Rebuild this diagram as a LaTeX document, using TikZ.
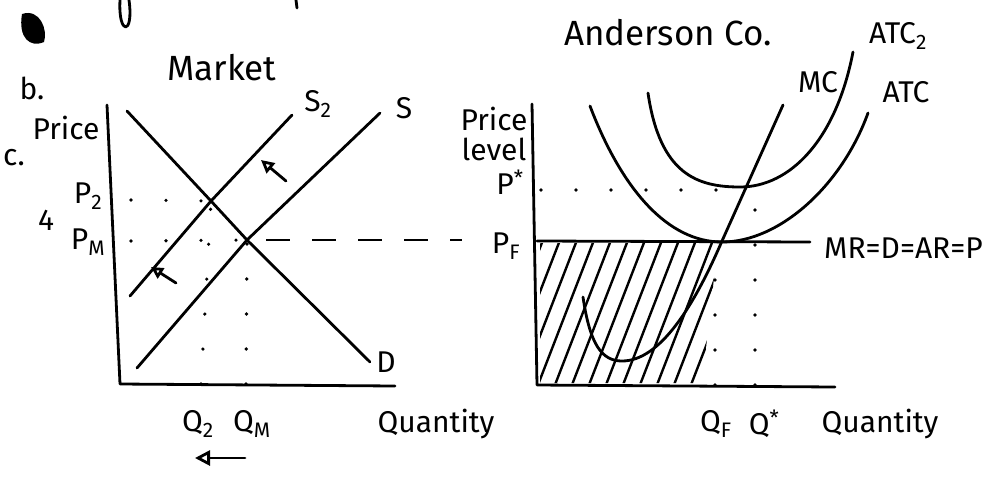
\documentclass[tikz,border=0pt]{standalone}
\usepackage{fontspec}
\setmainfont{Fira Sans}
\usetikzlibrary{arrows.meta}
\tikzset{
 ink/.style={line width=2.8pt,line cap=round,line join=round},
 dotline/.style={line width=3.6pt,line cap=round,dash pattern=on 0pt off 35pt},
 dashline/.style={line width=2.4pt,dash pattern=on 24pt off 22pt},
 hatch/.style={line width=2.4pt,line cap=round},
 hand/.style={font=\fontsize{30}{30}\selectfont,inner sep=0pt},
 big/.style={font=\fontsize{35}{37}\selectfont,inner sep=0pt},
}

\begin{document}
\begin{tikzpicture}[x=1pt,y=-1pt]
\useasboundingbox (0,0) rectangle (1001,491);
% stray marks at the top edge
\fill (22,14) .. controls (40,8) and (48,30) .. (44,42) .. controls (30,48) and (18,38) .. cycle;
\draw[ink] (120,0) .. controls (118,36) and (134,36) .. (129,0);
\draw[ink] (296,0) -- (297,8);

% ---- left panel: Market ----
\coordinate (ltop) at (107,105);
\coordinate (lo) at (120,384);
\coordinate (lend) at (395,386);
\draw[ink] (ltop) -- (lo) -- (lend);
\coordinate (d1) at (127,111);
\coordinate (d2) at (370,362);
\coordinate (e1) at (247,240);
\coordinate (e2) at (211,201);
\coordinate (sa) at (137,368);
\coordinate (sb) at (380,113);
\coordinate (s2a) at (130,296);
\coordinate (s2b) at (292,115);
\draw[ink] (d1) -- (e2) -- (e1) -- (d2);
\draw[ink] (sa) -- (e1) -- (sb);
\draw[ink] (s2a) -- (e2) -- (s2b);
\draw[dotline] (131,200) -- (e2);
\draw[dotline] (131,241) -- (e1);
\draw[dotline] (201,384) -- (e2);
\draw[dotline] (246,384) -- (e1);
\draw[dashline] (266,240) -- (462,240);
% shift arrows
\coordinate (ar1a) at (286,181);
\coordinate (ar1b) at (261,160);
\coordinate (ar2a) at (176,283);
\coordinate (ar2b) at (151,267);
\coordinate (ar3a) at (245,458);
\coordinate (ar3b) at (195,458);
\draw[ink,-{Triangle[open,length=13pt,width=13pt]}] (ar1a) -- (ar1b);
\draw[ink,-{Triangle[open,length=12pt,width=12pt]}] (ar2a) -- (ar2b);
\draw[ink,-{Triangle[open,length=15pt,width=15pt]}] (ar3a) -- (ar3b);

\node[big] (market) at (222,68) {Market};
\node[hand] (partb) at (32,88) {b.};
\node[hand] (partc) at (14,158) {c.};
\node[hand] (lprice) at (66,128) {Price};
\node[hand] (p2) at (88,196) {P\textsubscript{2}};
\node[hand] (up) at (46,220) {4};
\node[hand] (pm) at (88,242) {P\textsubscript{M}};
\node[hand] (s2lbl) at (318,104) {S\textsubscript{2}};
\node[hand] (slbl) at (404,108) {S};
\node[hand] (dlbl) at (386,362) {D};
\node[hand] (q2) at (198,424) {Q\textsubscript{2}};
\node[hand] (qm) at (252,424) {Q\textsubscript{M}};
\node[hand] (lqty) at (436,424) {Quantity};

% ---- right panel: Anderson Co. ----
\coordinate (rtop) at (532,104);
\coordinate (ro) at (537,385);
\coordinate (rend) at (835,387);
\coordinate (mra) at (537,241);
\coordinate (mrb) at (810,242);
% loss area
\begin{scope}
\clip (540,243) -- (718,243) -- (702,383) -- (540,383) -- cycle;
\foreach \i in {0,...,15}
 \draw[hatch] ({468+\i*17},390) -- ++(58,-150);
\end{scope}
\draw[ink] (rtop) -- (ro) -- (rend);
\draw[ink] (mra) -- (mrb);
\coordinate (atca) at (590,106);
\coordinate (atcmin) at (722,242);
\coordinate (atcb) at (868,113);
\draw[ink] (atca) .. controls (622,190) and (668,242) .. (atcmin)
 .. controls (780,242) and (842,185) .. (atcb);
\coordinate (atc2a) at (648,93);
\coordinate (atc2min) at (740,187);
\coordinate (atc2b) at (853,52);
\draw[ink] (atc2a) .. controls (660,175) and (698,187) .. (atc2min)
 .. controls (790,187) and (836,140) .. (atc2b);
\coordinate (mca) at (583,297);
\coordinate (mcmin) at (622,361);
\coordinate (mcmr) at (722,241);
\coordinate (mcb) at (783,105);
\draw[ink] (mca) .. controls (590,345) and (602,361) .. (mcmin)
 .. controls (660,361) and (694,306) .. (mcmr) -- (mcb);
\draw[dotline] (541,190) -- (746,190);
\draw[dotline] (715,385) -- (715,245);
\draw[dotline] (755,385) -- (755,190);

\node[big] (firm) at (668,33) {Anderson Co.};
\node[hand,align=center] (rprice) at (494,134) {Price\\level};
\node[hand] (pstar) at (510,182) {P\textsuperscript{*}};
\node[hand] (pf) at (506,246) {P\textsubscript{F}};
\node[hand] (mclbl) at (818,82) {MC};
\node[hand] (atclbl) at (906,92) {ATC};
\node[hand] (atc2lbl) at (898,36) {ATC\textsubscript{2}};
\node[hand,anchor=west] (mrlbl) at (824,248) {MR=D=AR=P};
\node[hand] (qf) at (716,424) {Q\textsubscript{F}};
\node[hand] (qstar) at (764,424) {Q\textsuperscript{*}};
\node[hand] (rqty) at (880,424) {Quantity};
\end{tikzpicture}
\end{document}
